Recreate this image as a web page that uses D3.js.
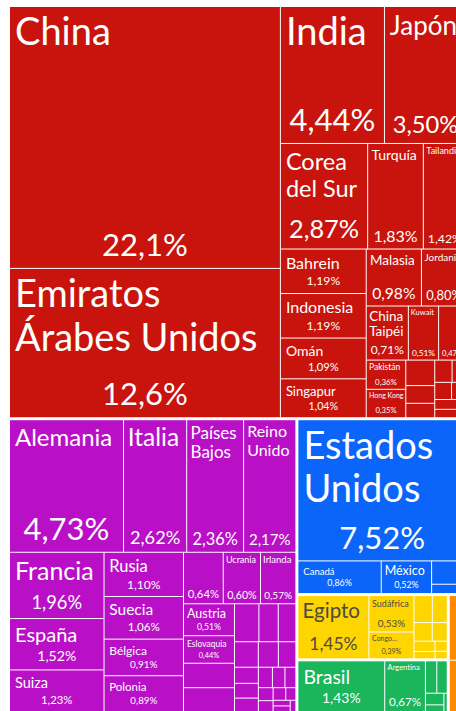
<!DOCTYPE html>
<html>
<head>
<meta charset="utf-8">
<script src="https://cdn.jsdelivr.net/npm/d3@7"></script>
<style>
  html, body { margin: 0; padding: 0; background: #fff; overflow: hidden; }
  svg { display: block; }
</style>
</head>
<body>
<svg id="chart"></svg>
<script>
// regions (top level of the treemap)
const regionNames = ['Asia', 'Europa', 'América del Norte', 'África', 'América del Sur', 'Oceanía'];
const regionColors = ['#c8140c', '#b910c7', '#0b65fa', '#ffd500', '#1bb55c', '#ff8a00'];
const regionTextColors = ['#fff', '#fff', '#fff', '#4a4a4a', '#fff', '#fff'];

// shares in % (small unlabeled cells are estimates)
const asiaCountries = ['China', 'Emiratos Árabes Unidos', 'India', 'Japón', 'Corea del Sur', 'Turquía',
    'Tailandia', 'Bahrein', 'Indonesia', 'Omán', 'Singapur', 'Malasia', 'Jordania', 'China Taipéi',
    'Kuwait', 'Bangladés', 'Pakistán', 'Hong Kong', 'Vietnam', 'Filipinas', 'Sri Lanka', 'Azerbaiyán',
    'Kazajistán', 'Uzbekistán', 'Turkmenistán', 'Kirguistán', 'Afganistán', 'Mongolia'];
const asiaShares = [22.1, 12.6, 4.44, 3.50, 2.87, 1.83, 1.42, 1.19, 1.19, 1.09, 1.04, 0.98, 0.80, 0.71,
    0.51, 0.47, 0.36, 0.35, 0.23, 0.16, 0.13, 0.12, 0.10, 0.09, 0.08, 0.07, 0.06, 0.05];

const europeCountries = ['Alemania', 'Italia', 'Países Bajos', 'Reino Unido', 'Francia', 'España', 'Suiza',
    'Rusia', 'Suecia', 'Bélgica', 'Polonia', 'Bosnia y Herzegovina', 'Ucrania', 'Irlanda', 'Austria',
    'Eslovaquia', 'Rumania', 'Portugal', 'Grecia', 'Finlandia', 'Noruega', 'Hungría', 'Eslovenia',
    'Lituania', 'Bulgaria', 'Croacia', 'Luxemburgo', 'Letonia', 'Estonia', 'Serbia', 'Dinamarca',
    'Albania', 'Macedonia', 'Montenegro', 'Islandia', 'Moldavia', 'Andorra'];
const europeShares = [4.73, 2.62, 2.36, 2.17, 1.96, 1.52, 1.23, 1.10, 1.06, 0.91, 0.89, 0.64, 0.60, 0.57,
    0.51, 0.44, 0.39, 0.38, 0.29, 0.23, 0.21, 0.19, 0.16, 0.14, 0.12, 0.11, 0.10, 0.09, 0.08, 0.07,
    0.06, 0.05, 0.05, 0.04, 0.03, 0.03, 0.02];

const northAmericaCountries = ['Estados Unidos', 'Canadá', 'México', 'Guatemala', 'Panamá', 'Costa Rica', 'Honduras'];
const northAmericaShares = [7.52, 0.86, 0.52, 0.20, 0.08, 0.05, 0.03];

const africaCountries = ['Egipto', 'Sudáfrica', 'Congo, Rep. Dem.', 'Marruecos', 'Kenia', 'Nigeria',
    'Argelia', 'Etiopía', 'Tanzania', 'Ghana', 'Túnez'];
const africaShares = [1.45, 0.53, 0.39, 0.16, 0.13, 0.11, 0.09, 0.07, 0.05, 0.04, 0.03];

const southAmericaCountries = ['Brasil', 'Argentina', 'Chile', 'Colombia', 'Perú', 'Uruguay', 'Ecuador'];
const southAmericaShares = [1.43, 0.67, 0.12, 0.11, 0.07, 0.04, 0.02];

const oceaniaCountries = ['Australia', 'Nueva Zelanda'];
const oceaniaShares = [0.39, 0.31];

const regionCountries = [asiaCountries, europeCountries, northAmericaCountries, africaCountries,
    southAmericaCountries, oceaniaCountries];
const regionShares = [asiaShares, europeShares, northAmericaShares, africaShares,
    southAmericaShares, oceaniaShares];

const FONT = 'Lato, "Source Sans Pro", "Noto Sans", sans-serif';
const NAME_MAX = 38;
const SHARE_MAX = 31;
const MIN_FONT = 7;

const width = 456, height = 711;
const margin = {left: 8, top: 5};
const mapWidth = 460, mapHeight = 708;   // the map runs past the right edge

const locale = d3.formatLocale({decimal: ',', thousands: '.', grouping: [3], currency: ['', ' €']});
const fmtBig = locale.format('.1f'), fmtSmall = locale.format('.2f');
function shareText(v) {
    return (v >= 10 ? fmtBig(v) : fmtSmall(v)) + '%';
}

const ctx = document.createElement('canvas').getContext('2d');
function textWidth(str, size) {
    ctx.font = size + 'px ' + FONT;
    return ctx.measureText(str).width;
}

// greedy word wrap, null when a single word does not fit
function wrap(str, size, maxW) {
    const words = str.split(/\s+/);
    const lines = [];
    let cur = '';
    for (const w of words) {
        if (textWidth(w, size) > maxW) return null;
        const test = cur ? cur + ' ' + w : w;
        if (textWidth(test, size) <= maxW) {
            cur = test;
        } else {
            lines.push(cur);
            cur = w;
        }
    }
    if (cur) lines.push(cur);
    return lines;
}

function fitLabel(d) {
    const w = d.x1 - d.x0, h = d.y1 - d.y0;
    const pad = Math.max(2, Math.min(5, w * 0.06));
    const innerW = w - 2 * pad;
    const share = shareText(d.value);
    const ss = Math.min(SHARE_MAX, innerW * 0.92 / textWidth(share, 1), h * 0.28);
    if (ss < MIN_FONT) return null;

    const availH = h - 2 * pad - ss * 1.2;
    let ns = 0, lines = [];
    for (let s = NAME_MAX; s >= MIN_FONT; s -= 0.5) {
        const L = wrap(d.data.name, s, innerW * 0.95);
        if (L && L.length * s * 1.15 <= availH) {
            ns = s;
            lines = L;
            break;
        }
    }
    if (!ns) {
        const s = MIN_FONT;
        const maxLines = Math.floor(availH / (s * 1.15));
        if (maxLines >= 1 && textWidth(d.data.name, s) <= innerW + 2) {
            // one line still fits at the smallest size
            lines = [d.data.name];
            ns = s;
        } else {
            // too tall: keep what fits and cut it with an ellipsis
            const L = wrap(d.data.name, s, innerW * 0.95);
            if (L && maxLines >= 1) {
                lines = L.slice(0, maxLines);
                lines[lines.length - 1] = lines[lines.length - 1].replace(/[,;.]$/, '') + '...';
                ns = s;
            }
        }
    }
    return {pad, share, ss, ns, lines};
}

const svg = d3.select('#chart')
    .attr('width', width)
    .attr('height', height)
    .style('font-family', FONT);

const rootData = {
    name: 'total',
    children: regionNames.map((r, i) => ({
        name: r,
        region: i,
        children: regionCountries[i].map((c, j) => ({name: c, region: i, value: regionShares[i][j]}))
    }))
};

const root = d3.hierarchy(rootData)
    .sum(d => d.value || 0)
    .sort((a, b) => b.value - a.value);

d3.treemap()
    .tile(d3.treemapSquarify)
    .size([mapWidth, mapHeight])
    .padding(1)(root);

const g = svg.append('g')
    .attr('transform', 'translate(' + margin.left + ',' + margin.top + ')');

const leaf = g.selectAll('g.leaf')
    .data(root.leaves())
    .join('g')
    .attr('class', 'leaf');

leaf.append('rect')
    .attr('x', d => d.x0)
    .attr('y', d => d.y0)
    .attr('width', d => Math.max(0, d.x1 - d.x0))
    .attr('height', d => Math.max(0, d.y1 - d.y0))
    .attr('fill', d => regionColors[d.data.region]);

leaf.each(function (d) {
    const lab = fitLabel(d);
    if (!lab) return;
    const color = regionTextColors[d.data.region];
    const sel = d3.select(this);

    if (lab.ns) {
        const t = sel.append('text')
            .attr('fill', color)
            .attr('font-size', lab.ns);
        lab.lines.forEach((line, k) => {
            t.append('tspan')
                .attr('x', d.x0 + lab.pad)
                .attr('y', d.y0 + lab.pad + lab.ns * 0.88 + k * lab.ns * 1.15)
                .text(line);
        });
    }

    sel.append('text')
        .attr('fill', color)
        .attr('font-size', lab.ss)
        .attr('text-anchor', 'middle')
        .attr('x', (d.x0 + d.x1) / 2)
        .attr('y', d.y1 - lab.pad - lab.ss * 0.22)
        .text(lab.share);
});
</script>
</body>
</html>
